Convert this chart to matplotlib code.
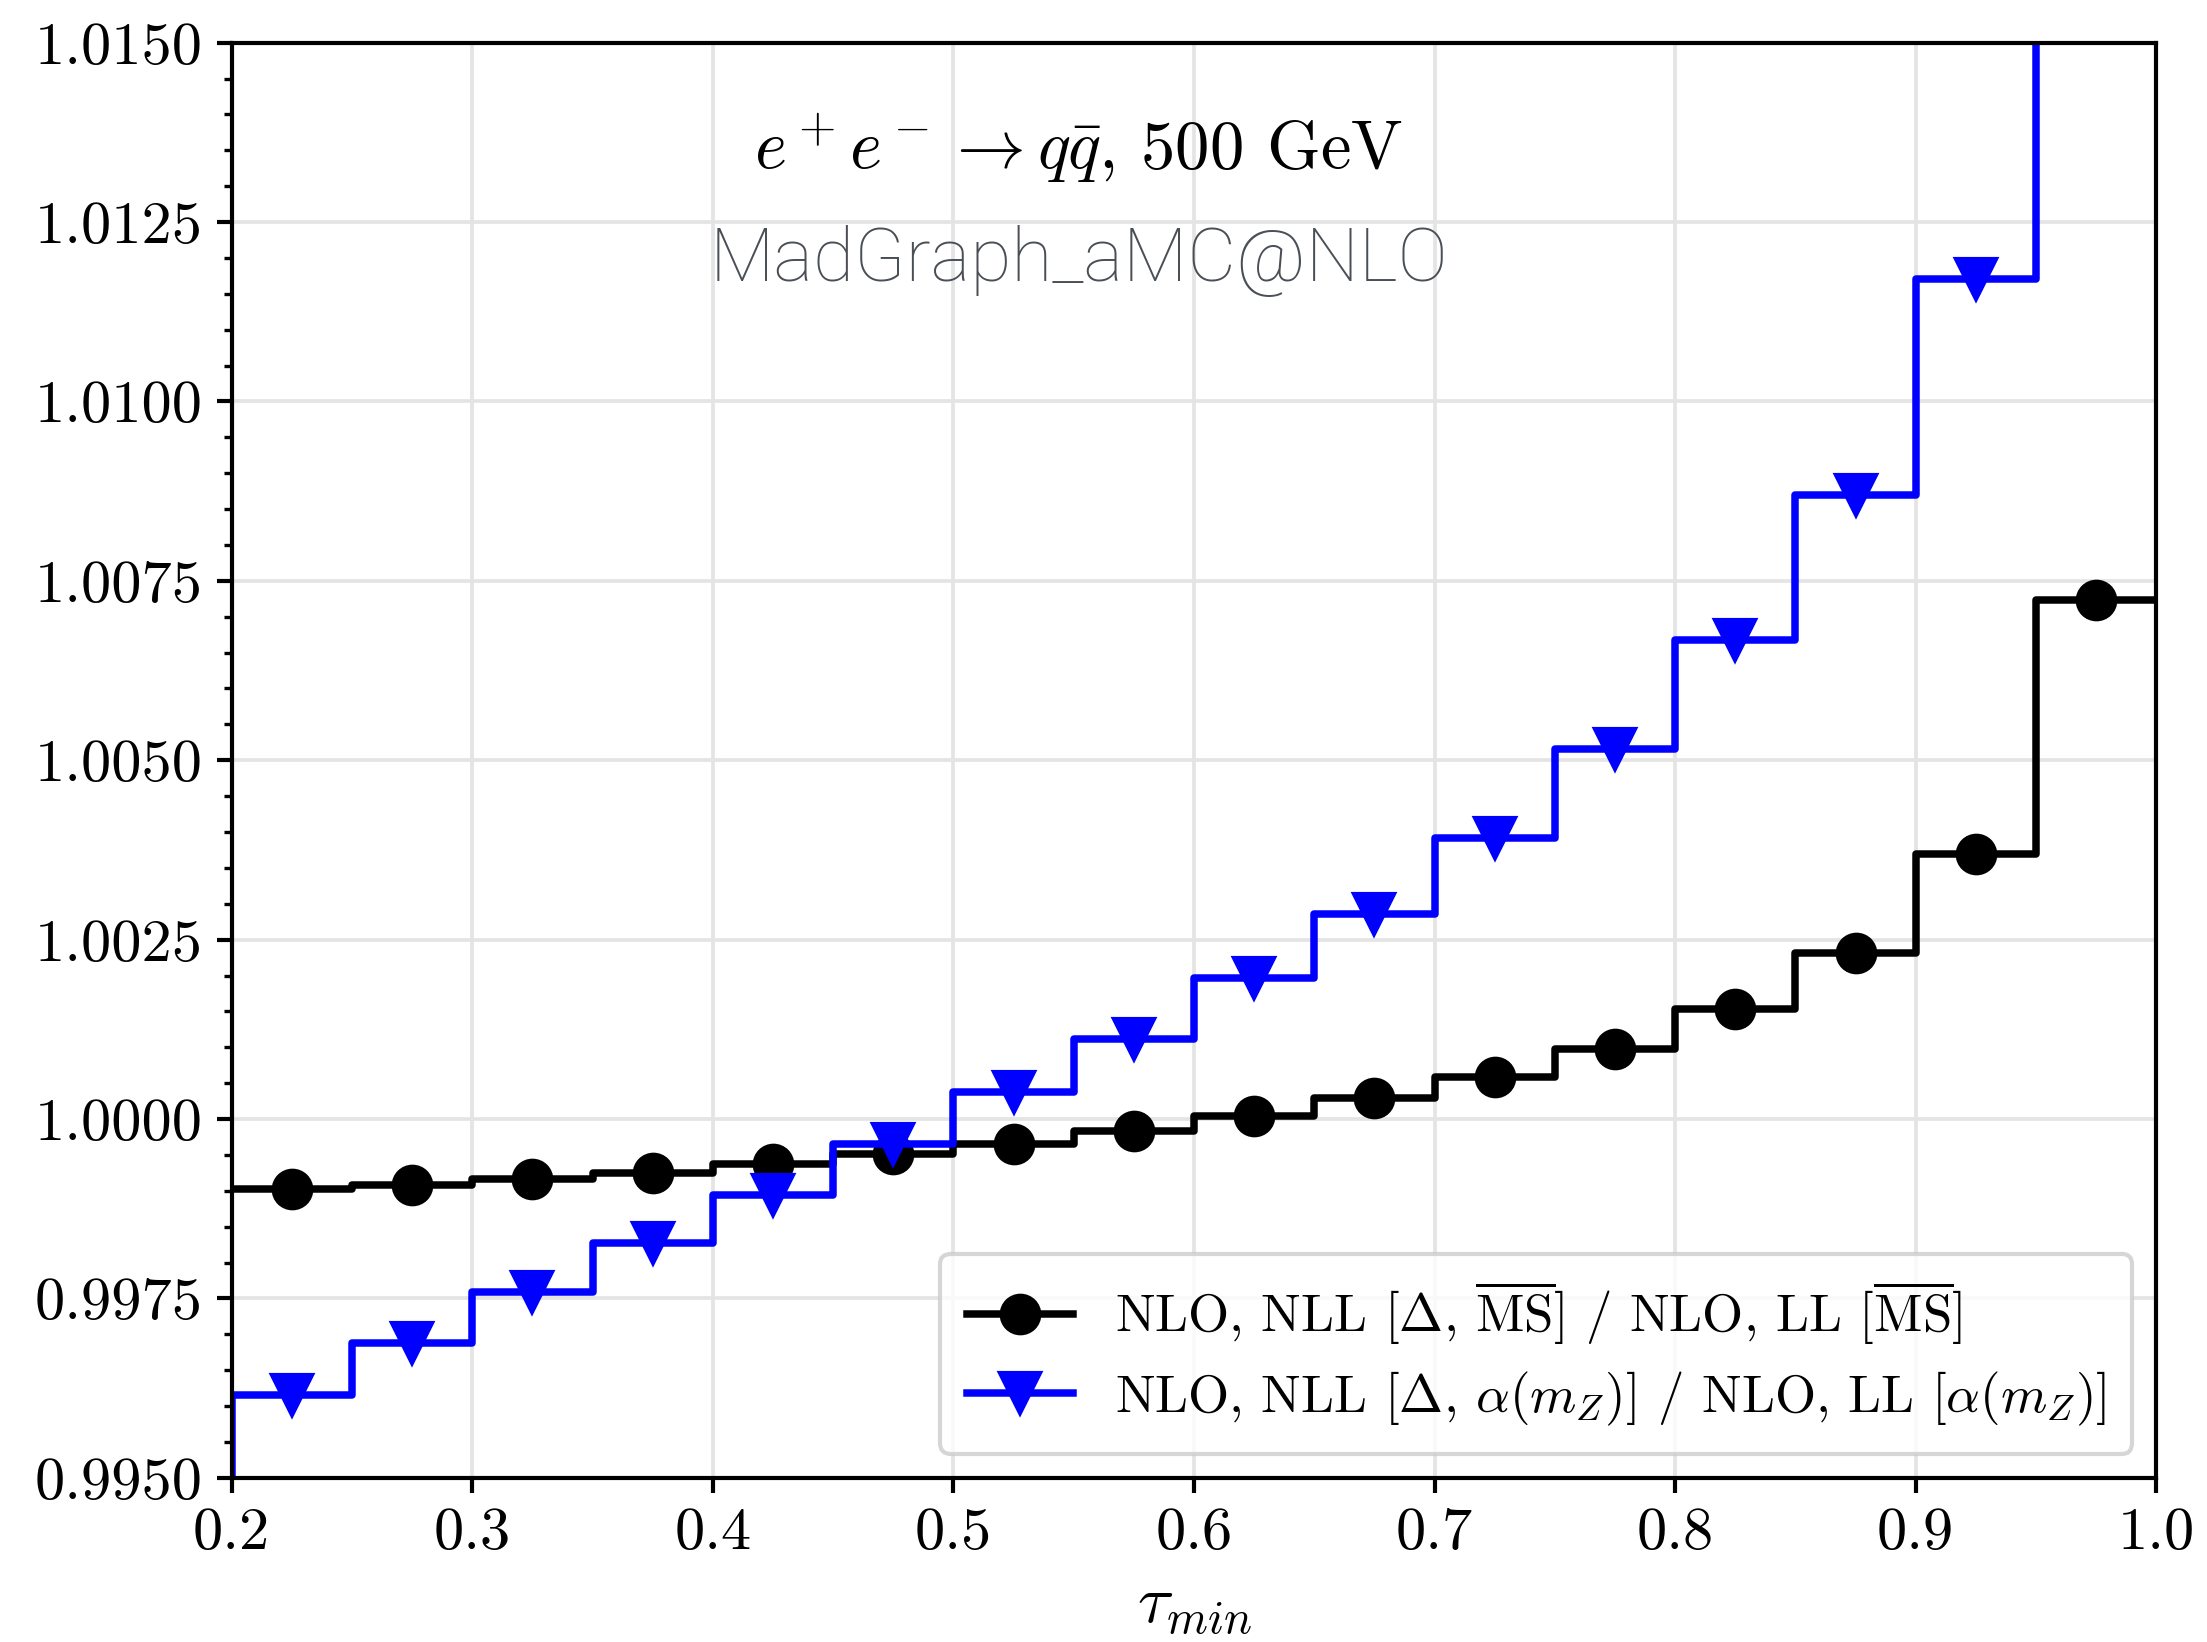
import matplotlib
matplotlib.use('agg')
import matplotlib.pyplot as plt
from matplotlib.ticker import MultipleLocator, FormatStrFormatter
import numpy as np

plt.rcParams['font.family'] = 'serif'
plt.rcParams['font.serif'] = ['cmr10']
plt.rcParams['mathtext.fontset'] = 'cm'
plt.rcParams['axes.formatter.use_mathtext'] = True

# bin centres, one padding bin on each side so steps reach the edges
tau = [0.175, 0.225, 0.275, 0.325, 0.375, 0.425, 0.475, 0.525, 0.575,
       0.625, 0.675, 0.725, 0.775, 0.825, 0.875, 0.925, 0.975, 1.025]

ratio_msbar = [0.99902, 0.99902, 0.99908, 0.99916, 0.99925, 0.99937, 0.99951,
               0.99965, 0.99984, 1.00004, 1.00029, 1.00059, 1.00098, 1.00153,
               1.00231, 1.00369, 1.00724, 1.00724]
ratio_alpha = [0.99350, 0.99616, 0.99688, 0.99759, 0.99827, 0.99894, 0.99965,
               1.00037, 1.00112, 1.00196, 1.00286, 1.00392, 1.00516, 1.00667,
               1.00869, 1.01171, 1.02000, 1.02000]

label_msbar = r'NLO, NLL [$\Delta$, $\overline{\rm MS}$] / NLO, LL [$\overline{\rm MS}$]'
label_alpha = r'NLO, NLL [$\Delta$, $\alpha(m_Z)$] / NLO, LL [$\alpha(m_Z)$]'

fig = plt.figure(figsize=(2207 / 300, 1642 / 300), dpi=300)
ax = fig.add_axes([0.105, 0.100, 0.872, 0.874])

ax.plot(tau, ratio_msbar, drawstyle='steps-mid', color='black', lw=1.8,
        marker='o', markersize=9, label=label_msbar)
ax.plot(tau, ratio_alpha, drawstyle='steps-mid', color='blue', lw=1.8,
        marker='v', markersize=9.5, label=label_alpha)

ax.set_xlim(0.2, 1.0)
ax.set_ylim(0.995, 1.015)
ax.xaxis.set_major_locator(MultipleLocator(0.1))
ax.yaxis.set_major_locator(MultipleLocator(0.0025))
ax.yaxis.set_minor_locator(MultipleLocator(0.0005))
ax.xaxis.set_major_formatter(FormatStrFormatter('%.1f'))
ax.yaxis.set_major_formatter(FormatStrFormatter('%.4f'))
ax.tick_params(axis='both', which='major', labelsize=14.5, width=1.0)
ax.tick_params(axis='both', which='minor', width=0.8)
for s in ax.spines.values():
    s.set_linewidth(1.0)
ax.grid(True, which='major', color='#e4e4e4', lw=0.9)
ax.set_axisbelow(True)

ax.set_xlabel(r'$\tau_{min}$', fontsize=16, labelpad=4)

ax.text(0.44, 0.926, r'$e^+e^- \to q\bar{q}$, 500 GeV', transform=ax.transAxes,
        ha='center', va='center', fontsize=16.5)
ax.text(0.44, 0.848, 'MadGraph_aMC@NLO', transform=ax.transAxes,
        ha='center', va='center', fontsize=18, color='#4a4f56',
        family='Roboto', fontweight='light')

ax.legend(loc='lower right', fontsize=12.7, frameon=True, fancybox=True,
          edgecolor='#cccccc', framealpha=0.8, borderaxespad=0.45,
          handlelength=2.0, labelspacing=0.42, borderpad=0.5)

fig.savefig('out.png', dpi=300)
